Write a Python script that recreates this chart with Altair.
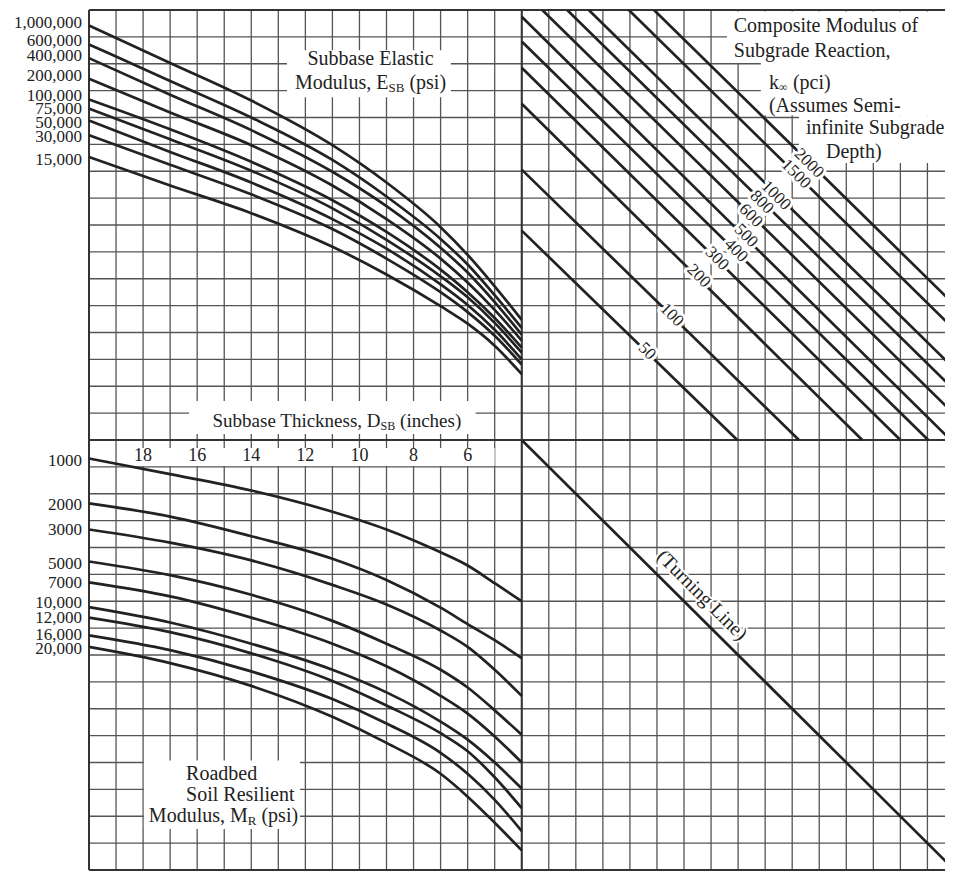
import altair as alt
import pandas as pd

# ---------------- values (grid units) ----------------
U_PTS = [0, 3, 6, 9, 11, 13, 14, 15, 16]   # grid columns where the curves were read

ESB_LABELS = ["1,000,000", "600,000", "400,000", "200,000", "100,000",
              "75,000", "50,000", "30,000", "15,000"]
ESB_LABEL_V = [0.50, 1.17, 1.72, 2.45, 3.19, 3.70, 4.20, 4.73, 5.58]
ESB_V = [
    [0.58, 1.97, 3.37, 5.03, 6.42, 8.08, 9.11, 10.28, 11.53],
    [1.28, 2.64, 4.00, 5.58, 6.94, 8.52, 9.47, 10.61, 11.83],
    [1.79, 3.15, 4.47, 6.02, 7.30, 8.85, 9.77, 10.87, 12.08],
    [2.56, 3.81, 5.03, 6.53, 7.78, 9.25, 10.14, 11.16, 12.30],
    [3.33, 4.44, 5.65, 7.08, 8.26, 9.66, 10.50, 11.46, 12.56],
    [3.67, 4.81, 5.98, 7.38, 8.55, 9.91, 10.69, 11.64, 12.75],
    [4.11, 5.28, 6.42, 7.78, 8.88, 10.21, 10.98, 11.90, 13.00],
    [4.66, 5.76, 6.86, 8.15, 9.25, 10.50, 11.24, 12.12, 13.19],
    [5.47, 6.53, 7.56, 8.81, 9.84, 11.02, 11.67, 12.49, 13.55],
]

MR_LABELS = ["1000", "2000", "3000", "5000", "7000",
             "10,000", "12,000", "16,000", "20,000"]
MR_LABEL_V = [16.79, 18.43, 19.36, 20.61, 21.33, 22.08, 22.61, 23.27, 23.76]
MR_V = [
    [16.69, 17.27, 17.88, 18.67, 19.33, 20.18, 20.67, 21.33, 22.00],
    [18.36, 18.85, 19.58, 20.42, 21.21, 22.24, 22.85, 23.45, 24.12],
    [19.33, 19.82, 20.48, 21.39, 22.12, 23.09, 23.70, 24.55, 25.52],
    [20.52, 21.03, 21.76, 22.73, 23.58, 24.55, 25.21, 26.06, 26.97],
    [21.30, 21.82, 22.61, 23.58, 24.42, 25.52, 26.18, 27.03, 28.00],
    [22.22, 22.79, 23.58, 24.55, 25.39, 26.48, 27.15, 28.00, 28.97],
    [22.61, 23.15, 23.94, 24.97, 25.88, 26.91, 27.58, 28.55, 29.70],
    [23.27, 23.82, 24.61, 25.64, 26.55, 27.64, 28.42, 29.39, 30.55],
    [23.70, 24.30, 25.15, 26.30, 27.27, 28.42, 29.27, 30.24, 31.27],
]

THICKNESS_TICKS = [18, 16, 14, 12, 10, 8, 6]   # D_SB inches, column = 20 - D

K_LABELS = ["50", "100", "200", "300", "400", "500", "600", "800", "1000", "1500", "2000"]
K_START_U = [16, 16, 16, 16, 16, 16, 16.76, 17.68, 18.48, 19.96, 20.89]
K_START_V = [8.21, 5.94, 3.49, 2.15, 1.17, 0.25, 0, 0, 0, 0, 0]
K_END_U = [23.97, 26.25, 28.59, 30.0, 31.03, 31.86, 32.96, 33.88, 34.68, 36.16, 37.09]
K_END_V = [16, 16, 16, 16, 16, 16, 16, 16, 16, 16, 16]
K_TAG_U = [20.63, 21.55, 22.55, 23.22, 23.92, 24.29, 24.47, 24.88, 25.40, 26.14, 26.62]
K_TAG_V = [12.70, 11.35, 9.90, 9.25, 8.95, 8.40, 7.65, 7.15, 6.90, 6.10, 5.70]

TURN_U = [16, 32]
TURN_V = [16, 32]

GRID_U = list(range(0, 32))
GRID_V = list(range(0, 33))
FRAME_U = [0, 16]
FRAME_V = [0, 16, 32]

# ---------------- layout / style ----------------
W, H = 856, 860
SERIF = "Liberation Serif"
INK = "#222222"
GRID = "#555555"
XS = alt.Scale(domain=[0, 31.65], nice=False, zero=False)
YS = alt.Scale(domain=[0, 32], reverse=True, nice=False, zero=False)


def X(f="u"):
    return alt.X(f"{f}:Q", scale=XS, axis=None)


def Y(f="v"):
    return alt.Y(f"{f}:Q", scale=YS, axis=None)


def note(t, u, v):
    return pd.DataFrame({"t": [t], "u": [u], "v": [v]})


def txt(df, size, align="left", angle=0, dx=0, dy=0, halo=0):
    kw = dict(font=SERIF, fontSize=size, align=align, baseline="middle",
              angle=angle, dx=dx, dy=dy)
    enc = dict(x=X(), y=Y(), text="t:N")
    out = []
    if halo:
        out.append(alt.Chart(df).mark_text(color="white", stroke="white",
                                           strokeWidth=halo, strokeJoin="round",
                                           **kw).encode(**enc))
    out.append(alt.Chart(df).mark_text(color=INK, **kw).encode(**enc))
    return out


# ---------------- tables ----------------
esb_df = pd.DataFrame([
    {"curve": lab, "u": u, "v": v}
    for lab, row in zip(ESB_LABELS, ESB_V) for u, v in zip(U_PTS, row)
])
mr_df = pd.DataFrame([
    {"curve": lab, "u": u, "v": v}
    for lab, row in zip(MR_LABELS, MR_V) for u, v in zip(U_PTS, row)
])
k_df = pd.DataFrame(
    [{"curve": l, "u": u, "v": v} for l, u, v in zip(K_LABELS, K_START_U, K_START_V)]
    + [{"curve": l, "u": u, "v": v} for l, u, v in zip(K_LABELS, K_END_U, K_END_V)]
)
turn_df = pd.DataFrame({"u": TURN_U, "v": TURN_V})
esb_lab = pd.DataFrame({"t": ESB_LABELS, "u": [0] * len(ESB_LABELS), "v": ESB_LABEL_V})
mr_lab = pd.DataFrame({"t": MR_LABELS, "u": [0] * len(MR_LABELS), "v": MR_LABEL_V})
thick_lab = pd.DataFrame({"t": [str(d) for d in THICKNESS_TICKS],
                          "u": [20 - d for d in THICKNESS_TICKS],
                          "v": [16.6] * len(THICKNESS_TICKS)})
k_lab = pd.DataFrame({"t": K_LABELS, "u": K_TAG_U, "v": K_TAG_V})

boxes = pd.DataFrame([
    {"u0": 7.32, "u1": 13.38, "v0": 1.50, "v1": 3.25},    # Subbase Elastic Modulus
    {"u0": 3.70, "u1": 14.30, "v0": 14.55, "v1": 15.78},  # Subbase Thickness
    {"u0": 1.15, "u1": 15.00, "v0": 16.30, "v1": 16.97},  # thickness tick labels
    {"u0": 2.03, "u1": 7.80, "v0": 27.93, "v1": 30.47},   # Roadbed Soil
    {"u0": 23.59, "u1": 31.65, "v0": 0.06, "v1": 1.97},   # Composite modulus
    {"u0": 24.84, "u1": 31.65, "v0": 1.97, "v1": 3.92},
    {"u0": 26.25, "u1": 31.65, "v0": 3.92, "v1": 5.69},
])

# ---------------- layers ----------------
layers = [
    alt.Chart(pd.DataFrame({"u": GRID_U})).mark_rule(color=GRID, strokeWidth=1.3).encode(x=X()),
    alt.Chart(pd.DataFrame({"v": GRID_V})).mark_rule(color=GRID, strokeWidth=1.3).encode(y=Y()),
    alt.Chart(boxes).mark_rect(color="white", stroke=None).encode(
        x=X("u0"), x2="u1:Q", y=Y("v0"), y2="v1:Q"),
    alt.Chart(pd.DataFrame({"u": FRAME_U})).mark_rule(color="#333333", strokeWidth=2).encode(x=X()),
    alt.Chart(pd.DataFrame({"v": FRAME_V})).mark_rule(color="#333333", strokeWidth=2).encode(y=Y()),
    alt.Chart(esb_df).mark_line(interpolate="monotone", color=INK, strokeWidth=2.7).encode(
        x=X(), y=Y(), detail="curve:N"),
    alt.Chart(mr_df).mark_line(interpolate="monotone", color=INK, strokeWidth=2.7).encode(
        x=X(), y=Y(), detail="curve:N"),
    alt.Chart(k_df).mark_line(color=INK, strokeWidth=2.7, clip=True).encode(
        x=X(), y=Y(), detail="curve:N"),
    alt.Chart(turn_df).mark_line(color=INK, strokeWidth=2.7, clip=True).encode(x=X(), y=Y()),
]

layers += txt(k_lab, 17, align="center", angle=45, halo=6)
layers += txt(esb_lab, 17, align="right", dx=-7)
layers += txt(mr_lab, 17, align="right", dx=-7)
layers += txt(thick_lab, 18, align="center")

# Subbase Elastic Modulus, E_SB (psi)
layers += txt(note("Subbase Elastic", 10.41, 1.84), 20, align="center")
layers += txt(note("Modulus, E", 11.07, 2.72), 20, align="right")
layers += txt(note("SB", 11.07, 2.72), 13, dy=5)
layers += txt(note("(psi)", 11.07, 2.72), 20, dx=21)

# Subbase Thickness, D_SB (inches)
layers += txt(note("Subbase Thickness, D", 10.78, 15.3), 19, align="right")
layers += txt(note("SB", 10.78, 15.3), 12, dy=5)
layers += txt(note("(inches)", 10.78, 15.3), 19, dx=19.5)

# Roadbed Soil Resilient Modulus, M_R (psi)
layers += txt(note("Roadbed", 3.59, 28.43), 20)
layers += txt(note("Soil Resilient", 3.59, 29.21), 20)
layers += txt(note("Modulus, M", 5.87, 30.0), 20, align="right")
layers += txt(note("R", 5.87, 30.0), 13, dy=5)
layers += txt(note("(psi)", 5.87, 30.0), 20, dx=13.7)

# Composite Modulus of Subgrade Reaction
layers += txt(note("Composite Modulus of", 23.84, 0.61), 20)
layers += txt(note("Subgrade Reaction,", 23.84, 1.53), 20)
layers += txt(note("k", 25.14, 2.71), 20)
layers += txt(note("\u221e", 25.14, 2.71), 12, dx=10, dy=4)
layers += txt(note("(pci)", 25.14, 2.71), 20, dx=24)
layers += txt(note("(Assumes Semi-", 25.14, 3.56), 20)
layers += txt(note("infinite Subgrade", 26.51, 4.40), 20)
layers += txt(note("Depth)", 27.25, 5.28), 20)

# Turning line label
layers += txt(note("(Turning Line)", 22.66, 21.78), 20, align="center", angle=45, halo=4)

chart = alt.layer(*layers).properties(
    width=W, height=H,
    padding={"left": 81, "top": 2, "right": 0, "bottom": 2},
    autosize=alt.AutoSizeParams(type="none"),
).configure_view(stroke=None).configure(background="white")

chart.save("out.html", embed_options={"renderer": "svg", "actions": False})
